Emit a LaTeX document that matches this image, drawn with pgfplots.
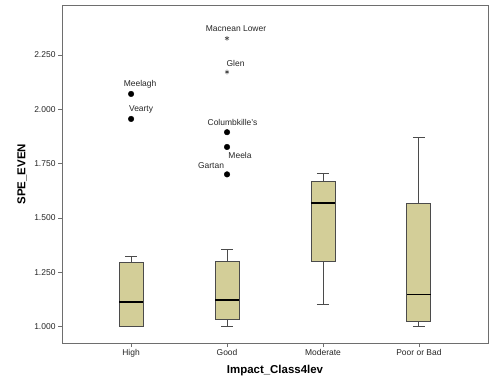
\documentclass[border=0pt]{standalone}
\usepackage{pgfplots}
\pgfplotsset{compat=1.18}
\usepgfplotslibrary{statistics}
\usepackage{fontspec}
\setmainfont{Liberation Sans}
\definecolor{boxfill}{RGB}{211,206,152}
\definecolor{boxdraw}{RGB}{75,75,75}
\definecolor{framec}{RGB}{110,110,110}
\begin{document}
\begin{tikzpicture}
\path[use as bounding box] (0,0) rectangle (493bp,382bp);
\begin{axis}[
  at={(62bp,39bp)}, anchor=south west,
  scale only axis, width=426bp, height=337.5bp,
  xmin=-0.72, xmax=3.72, ymin=0.925, ymax=2.478,
  axis line style={framec, line width=0.8bp},
  xtick={0,1,2,3}, xticklabels={High,Good,Moderate,Poor or Bad},
  ytick={1,1.25,1.5,1.75,2,2.25},
  yticklabels={1.000,1.250,1.500,1.750,2.000,2.250},
  tick align=outside, xtick pos=bottom, ytick pos=left,
  major tick length=4bp,
  tick style={framec, line width=0.8bp},
  ticklabel style={font=\fontsize{8.5}{10}\selectfont, text=black!85},
  xticklabel style={yshift=1bp},
  yticklabel style={xshift=1bp},
  xlabel={Impact\_Class4lev}, ylabel={SPE\_EVEN},
  label style={font=\fontsize{11.5}{13}\selectfont\bfseries},
  xlabel style={at={(axis description cs:0.5,0)}, anchor=center, yshift=-28bp},
  ylabel style={at={(axis description cs:0,0.5)}, anchor=center, yshift=40bp},
  clip=false,
  boxplot/draw direction=y,
  boxplot/box extend=0.25,
  boxplot/whisker extend=0.125,
  boxplot/every box/.style={draw=boxdraw, fill=boxfill, line width=0.9bp},
  boxplot/every whisker/.style={draw=boxdraw, line width=0.9bp},
  boxplot/every median/.style={draw=black, line width=1.6bp},
]
\addplot[boxplot prepared={lower whisker=1.000, lower quartile=1.000, median=1.114, upper quartile=1.296, upper whisker=1.325, draw position=0}] coordinates {};
\addplot[boxplot prepared={lower whisker=1.000, lower quartile=1.034, median=1.124, upper quartile=1.299, upper whisker=1.356, draw position=1}] coordinates {};
\addplot[boxplot prepared={lower whisker=1.104, lower quartile=1.302, median=1.569, upper quartile=1.669, upper whisker=1.703, draw position=2}] coordinates {};
\addplot[boxplot prepared={lower whisker=1.002, lower quartile=1.022, median=1.149, upper quartile=1.566, upper whisker=1.872, draw position=3}] coordinates {};
% outliers (dots)
\addplot[only marks, mark=*, mark size=2.8bp, black] coordinates {(0,2.071) (0,1.956) (1,1.895) (1,1.827) (1,1.701)};
% extreme values (stars)
\addplot[only marks, mark=asterisk, mark size=2.3bp, black!70, line width=0.6bp] coordinates {(1,2.327) (1,2.172)};
\begin{scope}[every node/.style={font=\fontsize{8.5}{10}\selectfont, text=black!85, inner sep=0pt}]
\node at (axis cs:0,2.071) [xshift=9bp, yshift=9.5bp] {Meelagh};
\node at (axis cs:0,1.956) [xshift=10bp, yshift=9bp] {Vearty};
\node at (axis cs:1,2.327) [xshift=9bp, yshift=9.5bp] {Macnean Lower};
\node at (axis cs:1,2.172) [xshift=8.5bp, yshift=9bp] {Glen};
\node at (axis cs:1,1.895) [xshift=5.5bp, yshift=10bp] {Columbkille's};
\node at (axis cs:1,1.827) [xshift=13bp, yshift=-8bp] {Meela};
\node at (axis cs:1,1.701) [xshift=-16bp, yshift=9bp] {Gartan};
\end{scope}
\end{axis}
\end{tikzpicture}
\end{document}
